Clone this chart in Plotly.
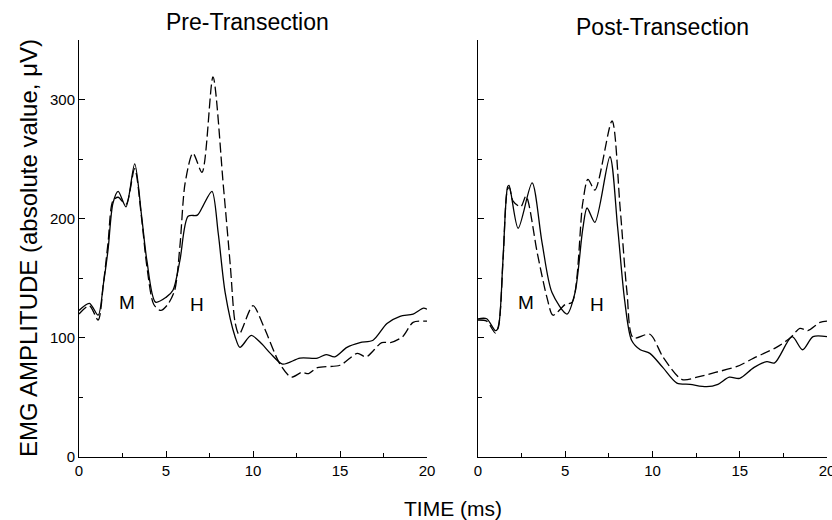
import plotly.graph_objects as go
from plotly.subplots import make_subplots

# Pre-Transection (left panel)
pre_solid_t = [0, 0.6, 1.1, 1.4, 1.67, 1.95, 2.25, 2.7, 3.2, 3.6, 3.9, 4.4, 5.0, 5.4, 5.8, 6.27, 6.8, 7.1,
               7.64, 8.0, 8.4, 8.97, 9.25, 9.9, 10.5, 11.0, 11.7, 12.7, 13.7, 14.2, 14.7, 15.4, 16.15,
               16.9, 17.7, 18.45, 19.2, 19.8, 20]
pre_solid_v = [123, 129, 119, 145, 174, 213, 223, 210, 246, 202, 165, 130, 134, 140, 165, 202, 203, 210,
               223, 188, 138, 101, 92, 102, 95, 87, 78, 83, 83, 86, 84, 92, 96,
               98, 112, 118, 120, 125, 124]

pre_dash_t = [0, 0.6, 1.1, 1.4, 1.67, 1.95, 2.25, 2.7, 3.2, 3.6, 3.9, 4.3, 4.7, 5.1, 5.5, 5.8, 6.1, 6.55,
              7.07, 7.7, 8.3, 8.7, 8.97, 9.2, 10.0, 10.6, 11.55, 12.2, 12.8, 13.2, 13.7, 15.0, 16.0,
              16.5, 17.4, 17.9, 18.6, 19.2, 19.9, 20]
pre_dash_v = [120, 127, 115, 145, 180, 215, 218, 212, 242, 200, 160, 128, 123, 128, 140, 177, 230, 255,
              239, 319, 227, 160, 113, 103, 127, 110, 78, 67, 71, 70, 75, 77, 87,
              84, 96, 96, 101, 113, 114, 114]

# Post-Transection (right panel)
post_solid_t = [0, 0.5, 1.0, 1.15, 1.43, 1.7, 1.78, 2.3, 3.1, 3.67, 4.24, 5.1, 5.56, 6.0, 6.25, 6.7, 7.56,
                8.0, 8.4, 8.8, 9.3, 9.85, 10.6, 11.4, 12.15, 13.1, 13.75, 14.4, 15.0, 15.8, 16.55,
                17.0, 18.0, 18.6, 19.2, 20]
post_solid_v = [116, 116, 106, 108, 165, 227, 228, 192, 230, 180, 138, 120, 138, 191, 209, 197, 252,
                193, 132, 98, 90, 87, 75, 62, 61, 59, 61, 67, 66, 75, 80,
                79, 101, 90, 101, 101]

post_dash_t = [0, 0.5, 1.0, 1.2, 1.45, 1.7, 1.8, 2.0, 2.45, 2.75, 3.4, 3.95, 4.3, 5.0, 5.4, 6.0, 6.3, 6.7,
               7.68, 8.14, 8.54, 8.9, 9.85, 10.6, 11.7, 12.55, 13.6, 14.85, 15.8, 17.1, 17.9, 18.45,
               18.9, 19.6, 20]
post_dash_v = [115, 114, 104, 112, 170, 225, 226, 215, 210, 219, 171, 134, 119, 128, 130, 213, 233, 224,
               282, 210, 138, 100, 103, 84, 65, 67, 71, 76, 83, 92, 100, 108,
               106, 113, 114]

FONT = "Liberation Sans, Arial, sans-serif"

fig = make_subplots(rows=1, cols=2, horizontal_spacing=0.06)

def add_pair(col, st, sv, dt, dv):
    fig.add_trace(go.Scatter(x=st, y=sv, mode="lines", line=dict(color="black", width=1.3,
                             shape="spline", smoothing=0.8)), row=1, col=col)
    fig.add_trace(go.Scatter(x=dt, y=dv, mode="lines", line=dict(color="black", width=1.3,
                             shape="spline", smoothing=0.8, dash="10px,4px")), row=1, col=col)

add_pair(1, pre_solid_t, pre_solid_v, pre_dash_t, pre_dash_v)
add_pair(2, post_solid_t, post_solid_v, post_dash_t, post_dash_v)

xax = dict(range=[0, 20], dtick=5, tick0=0, ticks="inside", ticklen=6, tickcolor="black",
           showline=True, linecolor="black", linewidth=1, showgrid=False, zeroline=False,
           tickfont=dict(family=FONT, size=15, color="black"), automargin=False,
           ticklabeloverflow="allow",
           minor=dict(dtick=2.5, ticks="inside", ticklen=4, tickcolor="black", showgrid=False))
yax = dict(range=[0, 350], dtick=100, tick0=0, ticks="inside", ticklen=6, tickcolor="black",
           showline=True, linecolor="black", linewidth=1, showgrid=False, zeroline=False,
           tickfont=dict(family=FONT, size=15, color="black"), automargin=False,
           minor=dict(dtick=50, ticks="inside", ticklen=4, tickcolor="black", showgrid=False),
           domain=[1 - 457 / 520, 1 - 40 / 520])

fig.update_layout(
    width=832, height=520,
    margin=dict(l=0, r=0, t=0, b=0, autoexpand=False),
    paper_bgcolor="white", plot_bgcolor="white",
    showlegend=False,
    xaxis=dict(xax, domain=[79 / 832, 427 / 832]),
    xaxis2=dict(xax, domain=[478 / 832, 827 / 832]),
    yaxis=dict(yax),
    yaxis2=dict(yax, showticklabels=False),
    font=dict(family=FONT, color="black"),
)

# panel labels and titles
for xr, yr in [("x", "y"), ("x2", "y2")]:
    fig.add_annotation(x=2.75, y=130, xref=xr, yref=yr, text="M", showarrow=False,
                       font=dict(family=FONT, size=19, color="black"))
    fig.add_annotation(x=6.8, y=128, xref=xr, yref=yr, text="H", showarrow=False,
                       font=dict(family=FONT, size=19, color="black"))

def paper_text(px, py, text, size, angle=0):
    fig.add_annotation(x=px / 832, y=1 - py / 520, xref="paper", yref="paper", text=text,
                       xanchor="center", yanchor="middle", textangle=angle, showarrow=False,
                       font=dict(family=FONT, size=size, color="black"))

paper_text(247, 22, "Pre-Transection", 23)
paper_text(662, 27, "Post-Transection", 23)
paper_text(28, 248, "EMG AMPLITUDE (absolute value, μV)", 24, -90)
paper_text(453, 508, "TIME (ms)", 21)

# page body has a default margin; drop it so the figure fills the window
fig.write_html("out.html", config={"displayModeBar": False},
               post_script="document.body.style.margin='0';")
